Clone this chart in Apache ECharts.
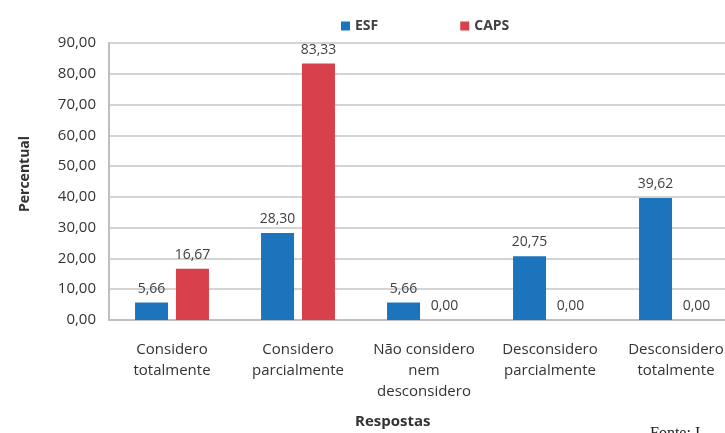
<!DOCTYPE html>
<html>
<head>
<meta charset="utf-8">
<script src="https://cdn.jsdelivr.net/npm/echarts@6/dist/echarts.min.js"></script>
<style>
html,body{margin:0;padding:0;background:#fff;}
#main{width:725px;height:433px;}
</style>
</head>
<body>
<div id="main"></div>
<script>
var categorias = ['Considero\ntotalmente', 'Considero\nparcialmente', 'Não considero\nnem\ndesconsidero', 'Desconsidero\nparcialmente', 'Desconsidero\ntotalmente'];
var esf = [5.66, 28.30, 5.66, 20.75, 39.62];
var caps = [16.67, 83.33, 0.00, 0.00, 0.00];

var fonte = '"Open Sans", "Liberation Sans", sans-serif';
function virgula(v){ return v.toFixed(2).replace('.', ','); }

var myChart = echarts.init(document.getElementById('main'));
var option = {
    animation: false,
    textStyle: {fontFamily: fonte},
    legend: {
        top: 14,
        left: 336,
        itemWidth: 9,
        itemHeight: 9,
        itemGap: 82,
        icon: 'rect',
        textStyle: {fontSize: 14, fontWeight: 'bold', color: '#404040', fontFamily: fonte}
    },
    grid: {left: 109, top: 43, bottom: 113, width: 630, outerBoundsMode: 'none', containLabel: false},
    xAxis: {
        type: 'category',
        data: categorias,
        axisLine: {lineStyle: {color: '#bfbfbf', width: 2}},
        axisTick: {show: false},
        axisLabel: {interval: 0, margin: 19, fontSize: 15, lineHeight: 21, color: '#333', fontFamily: fonte}
    },
    yAxis: {
        type: 'value',
        min: 0,
        max: 90,
        interval: 10,
        axisLine: {show: true, lineStyle: {color: '#bfbfbf', width: 2}},
        axisTick: {show: false},
        splitLine: {lineStyle: {color: '#d4d4d4', width: 2}},
        axisLabel: {margin: 13, fontSize: 15, color: '#333', fontFamily: fonte, formatter: function(v){ return virgula(v); }}
    },
    series: [
        {
            name: 'ESF',
            type: 'bar',
            data: esf,
            barWidth: 33,
            barGap: '24%',
            itemStyle: {color: '#1c75bc'},
            label: {show: true, position: 'top', distance: 7, fontSize: 14, color: '#404040', fontFamily: fonte, formatter: function(p){ return virgula(p.value); }}
        },
        {
            name: 'CAPS',
            type: 'bar',
            data: caps,
            barWidth: 33,
            itemStyle: {color: '#d8404b'},
            label: {show: true, position: 'top', distance: 7, fontSize: 14, color: '#404040', fontFamily: fonte, formatter: function(p){ return virgula(p.value); }}
        }
    ],
    graphic: [
        {type: 'text', x: 18, y: 212, rotation: Math.PI / 2, style: {text: 'Percentual', font: 'bold 14px ' + fonte, fill: '#333'}},
        {type: 'text', left: 355, top: 414, style: {text: 'Respostas', font: 'bold 15px ' + fonte, fill: '#333'}},
        {type: 'text', left: 650, top: 426, style: {text: 'Fonte: I', font: '16px "Liberation Serif", serif', fill: '#222'}}
    ]
};
myChart.setOption(option);
</script>
</body>
</html>
